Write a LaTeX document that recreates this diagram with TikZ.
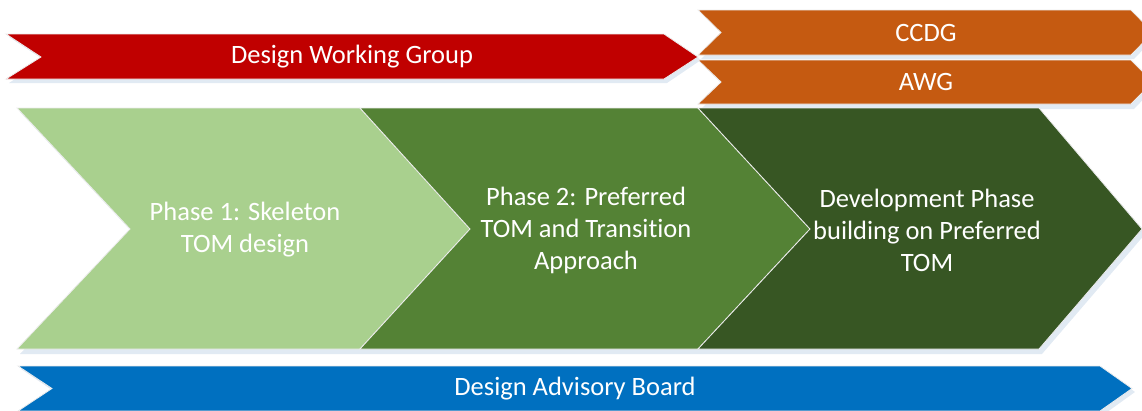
\documentclass[tikz,border=0pt]{standalone}
\usepackage{fontspec}
\setmainfont[Ligatures=NoCommon]{Carlito}
\definecolor{wgred}{HTML}{C00000}
\definecolor{orng}{HTML}{C55A11}
\definecolor{lgreen}{HTML}{A9D08E}
\definecolor{mgreen}{HTML}{548235}
\definecolor{dgreen}{HTML}{375623}
\definecolor{dblue}{HTML}{0070C0}
\definecolor{shade}{HTML}{9DB8D8}
\tikzset{
  band/.style={draw=white!85!gray, line width=0.8pt, line join=miter},
  shadowed/.style={fill=shade, opacity=0.3},
  lbl/.style={text=white, align=center, font=\fontsize{26.5}{32}\selectfont},
}
\begin{document}
\begin{tikzpicture}[x=1pt,y=-1pt]
\useasboundingbox (0,0) rectangle (1142,410);
\clip (0,0) rectangle (1142,410);
% shadows
\fill[shadowed] (9,37) -- (667,37) -- (701,60) -- (667,83) -- (9,83) -- (44,60) -- cycle;
\fill[shadowed] (701,13) -- (1134,13) -- (1156,36) -- (1134,59) -- (701,59) -- (724,36) -- cycle;
\fill[shadowed] (701,63) -- (1134,63) -- (1156,86) -- (1134,109) -- (701,109) -- (724,86) -- cycle;
\fill[shadowed] (20,112) -- (1042,112) -- (1146,233) -- (1042,354) -- (20,354) -- (133,233) -- cycle;
\fill[shadowed] (21,369) -- (1103,369) -- (1135,392) -- (1103,415) -- (21,415) -- (55,392) -- cycle;
% Design Working Group
\filldraw[band, fill=wgred] (6,34) -- (664,34) -- (698,57) -- (664,79) -- (6,79) -- (41,57) -- cycle;
\node[lbl] (dwg) at (352,57) {Design Working Group};
% CCDG / AWG
\filldraw[band, fill=orng] (698,10) -- (1131,10) -- (1153,32.5) -- (1131,55) -- (698,55) -- (721,32.5) -- cycle;
\node[lbl] (ccdg) at (926,32.5) {CCDG};
\filldraw[band, fill=orng] (698,60) -- (1131,60) -- (1153,82) -- (1131,104) -- (698,104) -- (721,82) -- cycle;
\node[lbl] (awg) at (926,82) {AWG};
% phases
\filldraw[band, fill=lgreen] (17,108) -- (360,108) -- (470,229) -- (360,349) -- (17,349) -- (130,229) -- cycle;
\filldraw[band, fill=mgreen] (360,108) -- (698,108) -- (810,229) -- (698,349) -- (360,349) -- (470,229) -- cycle;
\filldraw[band, fill=dgreen] (698,108) -- (1039,108) -- (1142,229) -- (1039,349) -- (698,349) -- (810,229) -- cycle;
\node[lbl] (p1) at (245,230) {Phase 1: Skeleton\\TOM design};
\node[lbl] (p2) at (586,230) {Phase 2: Preferred\\TOM and Transition\\Approach};
\node[lbl] (p3) at (927,230) {Development Phase\\building on Preferred\\TOM};
% Design Advisory Board
\filldraw[band, fill=dblue] (18,366) -- (1100,366) -- (1132,388.5) -- (1100,411) -- (18,411) -- (52,388.5) -- cycle;
\node[lbl] (dab) at (575,389) {Design Advisory Board};
\end{tikzpicture}
\end{document}
